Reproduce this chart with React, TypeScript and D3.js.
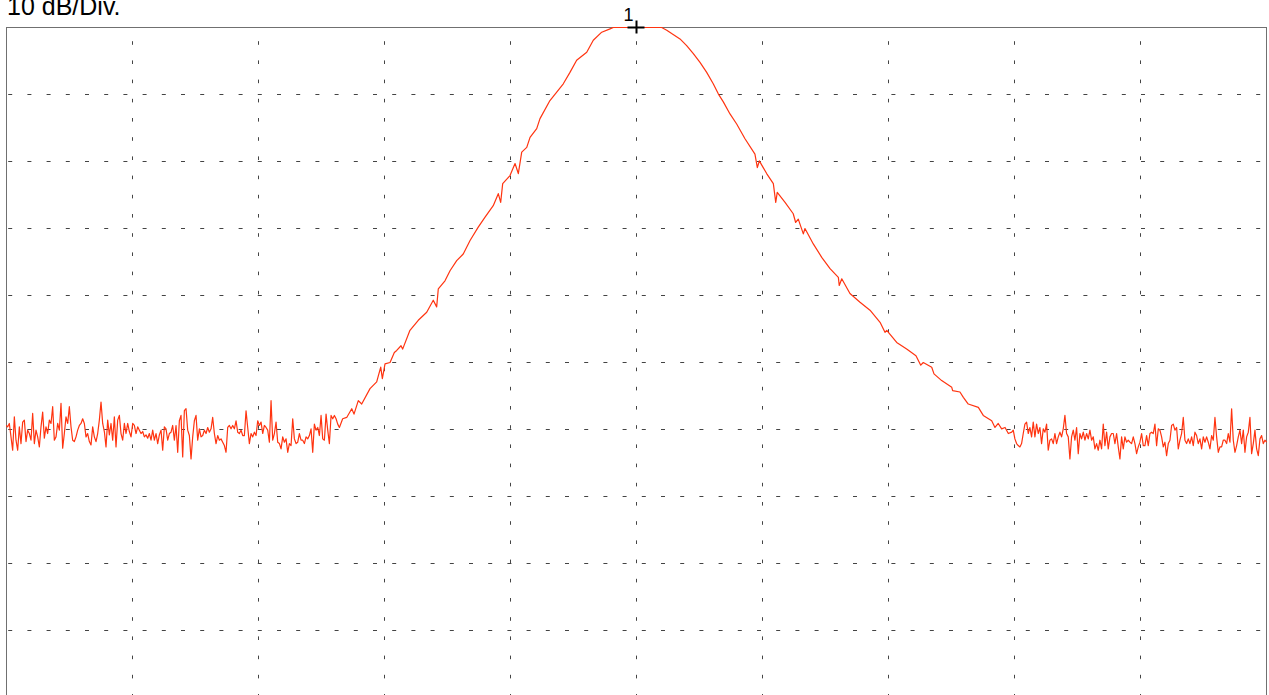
import React, { useRef, useEffect } from 'react';
import * as d3 from 'd3';

// Frequency offset from centre (MHz), 10 MHz/div; level in dB, 10 dB/div
const freqTicks = [-40, -30, -20, -10, 0, 10, 20, 30, 40];
const levelTicks = [-10, -20, -30, -40, -50, -60, -70, -80, -90];

const FLOOR_STEP = 0.1323; // MHz between noise samples
const LEFT_FLOOR_START = -50;
const RIGHT_FLOOR_START = 29.94;

// Noise floor, left of the carrier
const leftFloor = [
  -59.4, -59.6, -59.1, -61.1, -63.1, -58.1, -61.6, -63.1, -59.6, -62.1,
  -58.9, -58.6, -61.8, -60.1, -60.6, -61.6, -57.6, -62.1, -60.1, -61.1,
  -62.6, -59.6, -57.4, -61.3, -59.6, -60.6, -58.6, -59.1, -56.6, -61.6,
  -61.1, -59.1, -60.1, -56.1, -62.8, -60.6, -58.1, -59.1, -56.6, -59.6,
  -61.6, -61.8, -61.1, -60.1, -59.4, -59.1, -58.4, -59.1, -61.1, -60.6,
  -61.8, -62.3, -59.6, -61.1, -61.8, -60.6, -58.6, -55.9, -59.1, -60.3,
  -62.6, -58.6, -60.8, -59.1, -61.6, -58.1, -62.6, -58.6, -57.9, -60.6,
  -61.6, -59.1, -60.6, -59.1, -60.3, -61.1, -59.1, -59.4, -60.6, -59.6,
  -60.1, -60.6, -60.3, -61.1, -60.8, -61.3, -60.6, -61.6, -60.1, -61.6,
  -60.6, -62.1, -60.8, -60.1, -63.1, -59.6, -59.9, -61.6,
  -60.6, -60.4, -59.4, -61.6, -59.4, -63.4, -58.7, -57.9, -64.1, -57.2,
  -56.9, -60.1, -60.9, -64.4, -61.1, -58.7, -57.9, -61.6, -59.9, -61.1,
  -60.9, -60.1, -60.6, -59.7, -60.4, -59.9, -58.2, -60.6, -62.1, -60.9,
  -61.6, -61.4, -61.9, -62.4, -63.4, -59.7, -59.4, -59.9, -59.4, -59.9,
  -58.7, -60.4, -60.6, -60.1, -60.9, -60.9, -57.2, -59.7, -62.1, -60.6,
  -61.1, -60.4, -60.9, -58.7, -59.4, -58.9, -60.6, -59.4, -59.7, -60.1,
  -61.9, -55.7, -61.6, -60.6, -58.9, -61.9, -62.1, -62.9, -61.1, -61.9,
  -61.4, -63.4, -62.1, -62.4, -58.4, -61.4, -62.1, -61.9, -60.6, -61.6,
  -61.6, -62.1, -61.1, -61.4, -60.9, -59.9, -63.4, -59.2, -60.1, -59.7,
  -60.9, -57.9, -61.4, -61.6, -57.7, -60.1, -62.1, -57.9, -58.4, -57.9,
  -58.4, -59.2, -59.7,
];

// Rising skirt [freq, level]
const riseSkirt: [number, number][] = [
  [-23.28, -58.4], [-22.96, -58.2], [-22.56, -56.9], [-22.38, -57.7], [-22.04, -55.7],
  [-21.77, -56.2], [-21.11, -53.9], [-20.58, -52.9], [-20.26, -50.7], [-20.13, -52.4],
  [-19.92, -50.2], [-19.52, -50.0], [-19.18, -48.5], [-18.99, -48.2], [-18.65, -47.5],
  [-18.52, -48.0], [-17.94, -45.2], [-17.28, -43.7], [-16.61, -42.5], [-16.09, -40.7],
  [-15.82, -41.7], [-15.69, -39.0], [-15.16, -37.8], [-14.76, -36.3], [-14.23, -34.8],
  [-13.71, -33.8], [-13.17, -31.8], [-12.52, -29.8], [-11.98, -28.3], [-11.33, -26.6],
  [-10.93, -24.8], [-10.74, -26.1], [-10.58, -23.3], [-10.0, -22.1], [-9.6, -20.3],
  [-9.34, -21.8], [-9.07, -18.6], [-8.67, -17.9], [-8.41, -16.4], [-7.88, -15.1],
  [-7.62, -13.6], [-6.83, -10.9], [-5.77, -8.4], [-5.24, -6.7], [-4.71, -4.9],
  [-3.91, -3.7], [-3.39, -1.9], [-2.72, -0.7], [-2.06, -0.2], [-1.8, 0],
];

// Top of the carrier (clipped at reference level)
const peakTop: [number, number][] = [[0, 0], [2.04, 0]];

// Falling skirt [freq, level]
const fallSkirt: [number, number][] = [
  [2.44, -0.4], [2.83, -0.9], [3.49, -1.7], [4.02, -2.7], [4.55, -3.9],
  [5.08, -5.2], [5.61, -6.7], [6.13, -8.4], [6.53, -9.9], [6.93, -11.1],
  [7.46, -12.9], [7.99, -14.4], [8.65, -16.6], [9.44, -18.9], [9.63, -20.9],
  [9.79, -19.9], [10.37, -21.8], [10.9, -23.3], [11.09, -26.1], [11.21, -24.6],
  [11.83, -26.1], [12.48, -27.8], [12.67, -29.1], [12.88, -28.6], [13.28, -30.8],
  [13.41, -30.0], [14.07, -32.3], [14.74, -34.3], [15.4, -36.0], [16.06, -37.3],
  [16.13, -38.5], [16.33, -37.5], [16.98, -39.7], [17.78, -41.0], [18.57, -42.2],
  [19.37, -44.0], [19.76, -45.5], [19.9, -45.2], [20.69, -47.0], [21.48, -48.0],
  [22.22, -49.0], [22.6, -50.4], [22.8, -50.0], [23.47, -50.7], [23.65, -51.7],
  [24.26, -52.7], [25.06, -53.7], [25.13, -54.2], [25.71, -54.4], [25.98, -55.2],
  [26.37, -56.2], [27.17, -56.7], [27.56, -57.9], [28.23, -58.7], [28.49, -59.7],
  [28.75, -59.1], [29.02, -59.9], [29.29, -59.7], [29.55, -60.6], [29.82, -60.4],
];

// Noise floor, right of the carrier
const rightFloor = [
  -60.1, -61.4, -62.1, -62.4, -62.6, -62.1, -60.6, -59.2, -58.9, -60.6,
  -59.7, -61.1, -58.9, -61.1, -59.2, -60.6, -59.7, -62.1, -59.9, -60.4,
  -59.2, -63.1, -61.6, -61.4, -62.1, -60.6, -62.1, -61.1, -60.4, -61.1,
  -59.9, -57.9, -60.6, -61.1, -64.4, -61.1, -60.1, -61.6, -59.7, -63.6,
  -60.6, -61.4, -60.4, -61.6, -60.6, -61.4, -60.1, -61.6, -61.1, -62.9,
  -62.1, -63.1, -61.6, -62.9, -59.2, -62.4, -60.4, -62.9, -61.1, -60.6,
  -60.6, -62.1, -60.6, -62.6, -64.4, -61.1, -62.9, -61.1, -61.9, -61.6,
  -61.9, -62.1, -61.1, -62.1, -63.6, -62.6, -61.9, -60.6, -62.4, -62.4,
  -60.9, -62.4, -60.6, -60.4, -60.6, -59.2, -62.4, -59.9, -60.1, -61.1,
  -62.6, -61.9, -63.9, -62.1, -61.6, -59.4, -59.2, -60.1, -59.7, -62.9,
  -61.6, -60.6, -58.2, -61.6, -62.1, -61.4, -62.1, -61.1, -62.4, -60.4,
  -60.9, -62.1, -61.4, -62.9, -61.1, -61.9, -61.1, -61.9, -62.9, -60.9,
  -61.6, -58.2, -61.1, -63.4, -62.6, -62.6, -61.6, -61.6, -62.1, -60.6,
  -61.9, -56.9, -61.6, -63.4, -62.4, -61.1, -60.1, -62.1, -60.1, -63.4,
  -61.1, -60.4, -58.2, -63.6, -62.1, -60.1, -62.9, -63.9, -61.4, -60.9,
  -62.1, -61.6, -61.9,
];

const markerFreq = 0;
const markerLevel = 0;
const markerLabel = '1';
const scaleLabel = '10 dB/Div.';

const WIDTH = 1269;
const HEIGHT = 695;

const App: React.FC = () => {
  const svgRef = useRef<SVGSVGElement | null>(null);

  useEffect(() => {
    if (!svgRef.current) return;
    const svg = d3.select(svgRef.current);
    svg.selectAll('*').remove();

    const plot = { left: 6, right: 1266, top: 27, bottom: 697 };

    const x = d3.scaleLinear().domain([-50, 50]).range([plot.left, plot.right]);
    const y = d3.scaleLinear().domain([0, -100]).range([plot.top, plot.bottom]);

    const gridColor = '#444';

    // Vertical grid lines
    svg.append('g')
      .selectAll('line')
      .data(freqTicks)
      .join('line')
      .attr('x1', d => Math.round(x(d)) + 0.5)
      .attr('x2', d => Math.round(x(d)) + 0.5)
      .attr('y1', plot.top)
      .attr('y2', plot.bottom)
      .attr('stroke', gridColor)
      .attr('stroke-width', 1)
      .attr('stroke-dasharray', '3.6,15.6')
      .attr('stroke-dashoffset', 5);

    // Horizontal grid lines
    svg.append('g')
      .selectAll('line')
      .data(levelTicks)
      .join('line')
      .attr('x1', plot.left)
      .attr('x2', plot.right)
      .attr('y1', d => Math.round(y(d)) + 0.5)
      .attr('y2', d => Math.round(y(d)) + 0.5)
      .attr('stroke', gridColor)
      .attr('stroke-width', 1)
      .attr('stroke-dasharray', '4,15.2')
      .attr('stroke-dashoffset', 17);

    // Frame
    svg.append('rect')
      .attr('x', plot.left + 0.5)
      .attr('y', plot.top + 0.5)
      .attr('width', plot.right - plot.left)
      .attr('height', plot.bottom - plot.top)
      .attr('fill', 'none')
      .attr('stroke', '#707070')
      .attr('stroke-width', 1);

    // Assemble trace
    const trace: [number, number][] = [
      ...leftFloor.map((v, i) => [LEFT_FLOOR_START + i * FLOOR_STEP, v] as [number, number]),
      ...riseSkirt,
      ...peakTop,
      ...fallSkirt,
      ...rightFloor.map((v, i) => [RIGHT_FLOOR_START + i * FLOOR_STEP, v] as [number, number]),
    ];

    svg.append('clipPath')
      .attr('id', 'plot-clip')
      .append('rect')
      .attr('x', plot.left)
      .attr('y', plot.top - 1)
      .attr('width', plot.right - plot.left + 1)
      .attr('height', plot.bottom - plot.top + 2);

    const line = d3.line<[number, number]>()
      .x(d => x(d[0]))
      .y(d => y(d[1]) + 0.5);

    svg.append('path')
      .datum(trace)
      .attr('clip-path', 'url(#plot-clip)')
      .attr('fill', 'none')
      .attr('stroke', '#ff3410')
      .attr('stroke-width', 1.2)
      .attr('stroke-linejoin', 'round')
      .attr('d', line);

    // Marker 1
    const mx = Math.round(x(markerFreq)) + 0.5;
    const my = Math.round(y(markerLevel)) + 0.5;
    const marker = svg.append('g').attr('stroke', '#000').attr('stroke-width', 2);
    marker.append('line').attr('x1', mx - 9).attr('x2', mx + 8).attr('y1', my).attr('y2', my);
    marker.append('line').attr('x1', mx).attr('x2', mx).attr('y1', my - 7).attr('y2', my + 6);

    svg.append('text')
      .attr('x', mx - 3)
      .attr('y', my - 7)
      .attr('text-anchor', 'end')
      .attr('font-family', 'Liberation Sans, Arial, sans-serif')
      .attr('font-size', 18)
      .attr('fill', '#000')
      .text(markerLabel);

    // Scale label (the reference crops its top edge at the window border)
    svg.append('text')
      .attr('x', 7)
      .attr('y', 15)
      .attr('font-family', 'Liberation Sans, Arial, sans-serif')
      .attr('font-size', 25)
      .attr('fill', '#000')
      .text(scaleLabel);
  }, []);

  return (
    <div style={{ position: 'fixed', left: 0, top: 0, width: WIDTH, height: HEIGHT, background: '#fff' }}>
      <svg ref={svgRef} width={WIDTH} height={HEIGHT} style={{ display: 'block' }} />
    </div>
  );
};

export default App;
